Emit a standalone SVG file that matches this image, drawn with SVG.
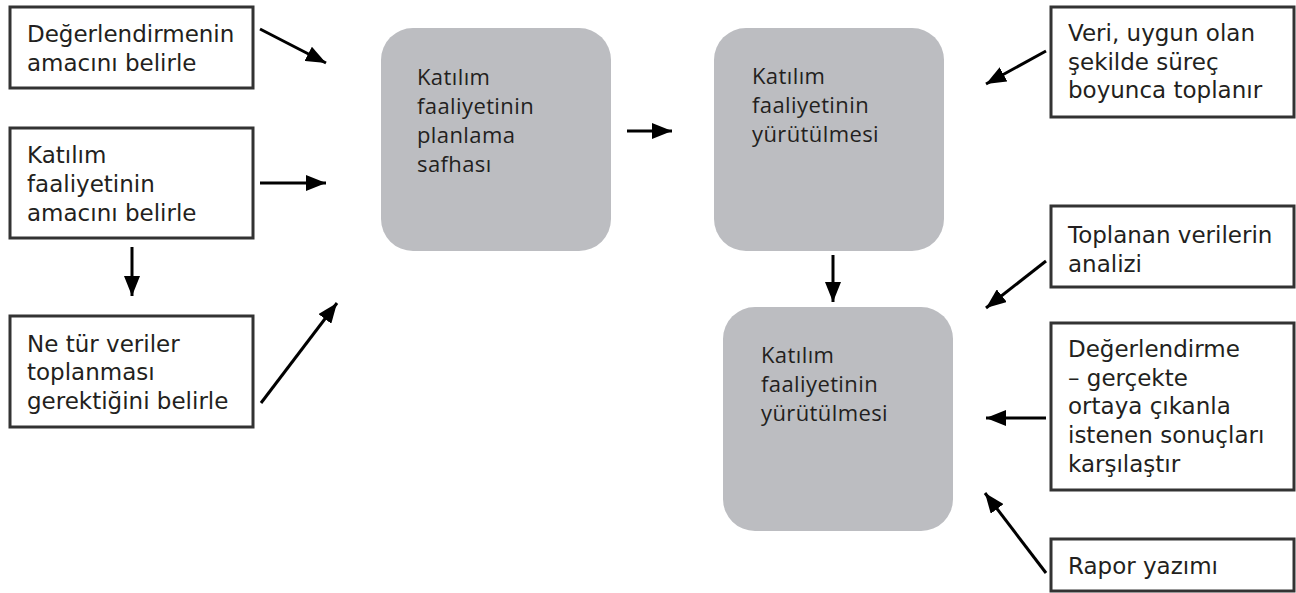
<svg xmlns="http://www.w3.org/2000/svg" width="1296" height="593" viewBox="0 0 1296 593">
<defs>
<style>
.box{fill:#fff;stroke:#333;stroke-width:3}
.phase{fill:#bcbdc1}
.t{font-family:"DejaVu Sans",Verdana,sans-serif;font-size:23px;fill:#231f20}
.p{font-family:"Open Sans","Noto Sans",sans-serif;font-size:22px;letter-spacing:0.4px;fill:#231f20}
.a{stroke:#000;stroke-width:3;fill:none;marker-end:url(#ah)}
</style>
<marker id="ah" markerUnits="userSpaceOnUse" markerWidth="20" markerHeight="16" refX="20" refY="8" orient="auto">
<path d="M0,0 L20,8 L0,16 z" fill="#000"/>
</marker>
</defs>
<g id="n-amac-deger">
<rect class="box" x="10" y="7" width="243" height="81"/>
<text class="t" x="27" y="42">Değerlendirmenin</text>
<text class="t" x="27" y="71">amacını belirle</text>
</g>
<g id="n-amac-katilim">
<rect class="box" x="10" y="128" width="243" height="110"/>
<text class="t" x="27" y="163">Katılım</text>
<text class="t" x="27" y="192">faaliyetinin</text>
<text class="t" x="27" y="221">amacını belirle</text>
</g>
<g id="n-veri-tur">
<rect class="box" x="10" y="316" width="243" height="111"/>
<text class="t" x="27" y="352">Ne tür veriler</text>
<text class="t" x="27" y="380">toplanması</text>
<text class="t" x="27" y="409">gerektiğini belirle</text>
</g>
<g id="n-planlama">
<rect class="phase" x="381" y="28" width="230" height="223" rx="32"/>
<text class="p" x="417" y="85">Katılım</text>
<text class="p" x="417" y="114">faaliyetinin</text>
<text class="p" x="417" y="143">planlama</text>
<text class="p" x="417" y="172">safhası</text>
</g>
<g id="n-yurutme1">
<rect class="phase" x="714" y="28" width="230" height="223" rx="32"/>
<text class="p" x="752" y="84">Katılım</text>
<text class="p" x="752" y="113">faaliyetinin</text>
<text class="p" x="752" y="142">yürütülmesi</text>
</g>
<g id="n-yurutme2">
<rect class="phase" x="723" y="307" width="230" height="224" rx="32"/>
<text class="p" x="761" y="363">Katılım</text>
<text class="p" x="761" y="392">faaliyetinin</text>
<text class="p" x="761" y="421">yürütülmesi</text>
</g>
<g id="n-veri-toplama">
<rect class="box" x="1051" y="7" width="243" height="110"/>
<text class="t" x="1068" y="41">Veri, uygun olan</text>
<text class="t" x="1068" y="70">şekilde süreç</text>
<text class="t" x="1068" y="98">boyunca toplanır</text>
</g>
<g id="n-analiz">
<rect class="box" x="1051" y="206" width="243" height="81"/>
<text class="t" x="1068" y="243">Toplanan verilerin</text>
<text class="t" x="1068" y="272">analizi</text>
</g>
<g id="n-degerlendirme">
<rect class="box" x="1051" y="323" width="243" height="167"/>
<text class="t" x="1068" y="357">Değerlendirme</text>
<text class="t" x="1068" y="386">– gerçekte</text>
<text class="t" x="1068" y="414">ortaya çıkanla</text>
<text class="t" x="1068" y="443">istenen sonuçları</text>
<text class="t" x="1068" y="472">karşılaştır</text>
</g>
<g id="n-rapor">
<rect class="box" x="1051" y="539" width="243" height="52"/>
<text class="t" x="1068" y="574">Rapor yazımı</text>
</g>
<g id="connectors">
<line class="a" x1="260" y1="29" x2="326" y2="63"/>
<line class="a" x1="260" y1="183" x2="326" y2="183"/>
<line class="a" x1="132" y1="247" x2="132" y2="296"/>
<line class="a" x1="261" y1="403" x2="337" y2="303"/>
<line class="a" x1="627" y1="131" x2="672" y2="131"/>
<line class="a" x1="1046" y1="51" x2="986" y2="84"/>
<line class="a" x1="833" y1="255" x2="833" y2="302"/>
<line class="a" x1="1046" y1="261" x2="986" y2="308"/>
<line class="a" x1="1046" y1="418" x2="986" y2="418"/>
<line class="a" x1="1046" y1="573" x2="985" y2="493"/>
</g>
</svg>
